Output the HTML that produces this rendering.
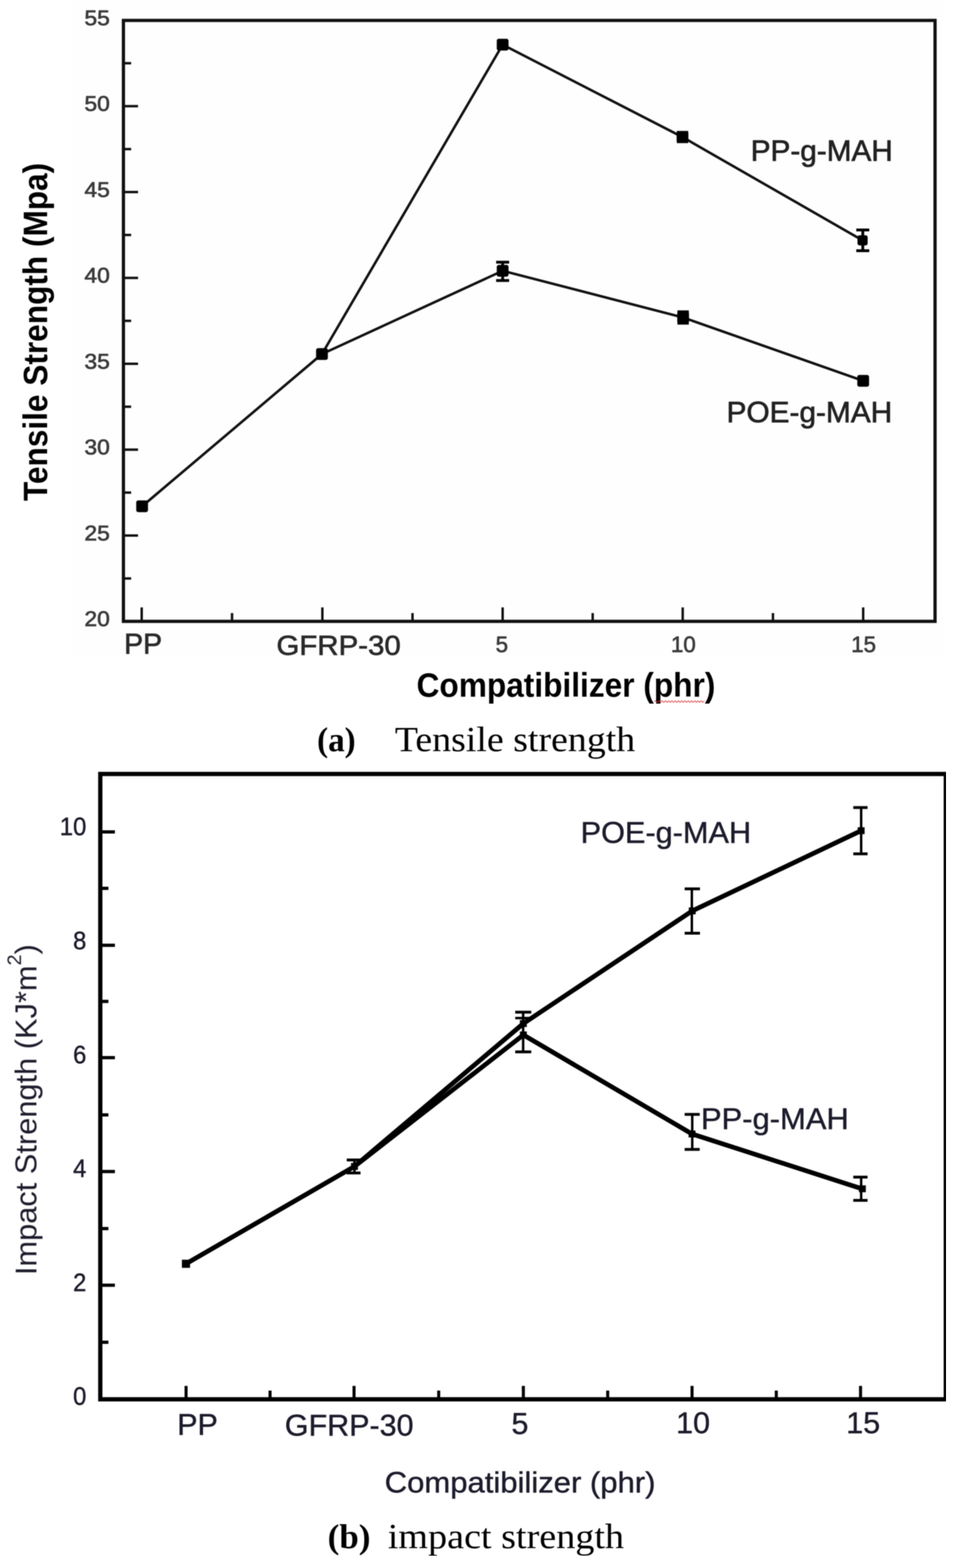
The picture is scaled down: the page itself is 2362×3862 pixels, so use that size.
<!DOCTYPE html><html><head><meta charset="utf-8"><title>Tensile and impact strength</title><style>html,body{margin:0;padding:0;background:#fff;}svg{display:block;}</style></head><body>
<svg width="2362" height="3862" viewBox="0 0 2362 3862">
<rect x="0" y="0" width="2362" height="3862" fill="#fff"/>
<defs><filter id="soft" x="0" y="0" width="100%" height="100%" color-interpolation-filters="sRGB"><feGaussianBlur stdDeviation="1.0"/></filter></defs>
<g filter="url(#soft)">
<rect x="180" y="0" width="2147" height="1618" fill="#fefefe"/>
<rect x="304" y="50.3" width="1999" height="1480.1000000000001" fill="none" stroke="#111" stroke-width="8"/>
<line x1="304" y1="1424.75" x2="323" y2="1424.75" stroke="#111" stroke-width="6" stroke-linecap="butt"/>
<line x1="304" y1="1319.0" x2="340" y2="1319.0" stroke="#111" stroke-width="6" stroke-linecap="butt"/>
<line x1="304" y1="1213.25" x2="323" y2="1213.25" stroke="#111" stroke-width="6" stroke-linecap="butt"/>
<line x1="304" y1="1107.5" x2="340" y2="1107.5" stroke="#111" stroke-width="6" stroke-linecap="butt"/>
<line x1="304" y1="1001.75" x2="323" y2="1001.75" stroke="#111" stroke-width="6" stroke-linecap="butt"/>
<line x1="304" y1="896.0" x2="340" y2="896.0" stroke="#111" stroke-width="6" stroke-linecap="butt"/>
<line x1="304" y1="790.25" x2="323" y2="790.25" stroke="#111" stroke-width="6" stroke-linecap="butt"/>
<line x1="304" y1="684.5" x2="340" y2="684.5" stroke="#111" stroke-width="6" stroke-linecap="butt"/>
<line x1="304" y1="578.7500000000001" x2="323" y2="578.7500000000001" stroke="#111" stroke-width="6" stroke-linecap="butt"/>
<line x1="304" y1="473.0" x2="340" y2="473.0" stroke="#111" stroke-width="6" stroke-linecap="butt"/>
<line x1="304" y1="367.25" x2="323" y2="367.25" stroke="#111" stroke-width="6" stroke-linecap="butt"/>
<line x1="304" y1="261.5" x2="340" y2="261.5" stroke="#111" stroke-width="6" stroke-linecap="butt"/>
<line x1="304" y1="155.75" x2="323" y2="155.75" stroke="#111" stroke-width="6" stroke-linecap="butt"/>
<line x1="349" y1="1530.4" x2="349" y2="1496" stroke="#111" stroke-width="6" stroke-linecap="butt"/>
<line x1="794" y1="1530.4" x2="794" y2="1496" stroke="#111" stroke-width="6" stroke-linecap="butt"/>
<line x1="1238" y1="1530.4" x2="1238" y2="1496" stroke="#111" stroke-width="6" stroke-linecap="butt"/>
<line x1="1681.5" y1="1530.4" x2="1681.5" y2="1496" stroke="#111" stroke-width="6" stroke-linecap="butt"/>
<line x1="2126" y1="1530.4" x2="2126" y2="1496" stroke="#111" stroke-width="6" stroke-linecap="butt"/>
<line x1="571.5" y1="1530.4" x2="571.5" y2="1510" stroke="#111" stroke-width="6" stroke-linecap="butt"/>
<line x1="1016.0" y1="1530.4" x2="1016.0" y2="1510" stroke="#111" stroke-width="6" stroke-linecap="butt"/>
<line x1="1459.75" y1="1530.4" x2="1459.75" y2="1510" stroke="#111" stroke-width="6" stroke-linecap="butt"/>
<line x1="1903.75" y1="1530.4" x2="1903.75" y2="1510" stroke="#111" stroke-width="6" stroke-linecap="butt"/>
<text x="270.5" y="1542.0" font-size="51" fill="#3c3c3c" font-family="'Liberation Sans', Arial, sans-serif" stroke="#3c3c3c" stroke-width="1.5" text-anchor="end" textLength="62.4" lengthAdjust="spacingAndGlyphs">20</text>
<text x="270.5" y="1330.5" font-size="51" fill="#3c3c3c" font-family="'Liberation Sans', Arial, sans-serif" stroke="#3c3c3c" stroke-width="1.5" text-anchor="end" textLength="62.4" lengthAdjust="spacingAndGlyphs">25</text>
<text x="270.5" y="1119.0" font-size="51" fill="#3c3c3c" font-family="'Liberation Sans', Arial, sans-serif" stroke="#3c3c3c" stroke-width="1.5" text-anchor="end" textLength="62.4" lengthAdjust="spacingAndGlyphs">30</text>
<text x="270.5" y="907.5" font-size="51" fill="#3c3c3c" font-family="'Liberation Sans', Arial, sans-serif" stroke="#3c3c3c" stroke-width="1.5" text-anchor="end" textLength="62.4" lengthAdjust="spacingAndGlyphs">35</text>
<text x="270.5" y="696.0" font-size="51" fill="#3c3c3c" font-family="'Liberation Sans', Arial, sans-serif" stroke="#3c3c3c" stroke-width="1.5" text-anchor="end" textLength="62.4" lengthAdjust="spacingAndGlyphs">40</text>
<text x="270.5" y="484.5" font-size="51" fill="#3c3c3c" font-family="'Liberation Sans', Arial, sans-serif" stroke="#3c3c3c" stroke-width="1.5" text-anchor="end" textLength="62.4" lengthAdjust="spacingAndGlyphs">45</text>
<text x="270.5" y="273.0" font-size="51" fill="#3c3c3c" font-family="'Liberation Sans', Arial, sans-serif" stroke="#3c3c3c" stroke-width="1.5" text-anchor="end" textLength="62.4" lengthAdjust="spacingAndGlyphs">50</text>
<text x="270.5" y="61.5" font-size="51" fill="#3c3c3c" font-family="'Liberation Sans', Arial, sans-serif" stroke="#3c3c3c" stroke-width="1.5" text-anchor="end" textLength="62.4" lengthAdjust="spacingAndGlyphs">55</text>
<text x="352.5" y="1610" font-size="70" fill="#2a2a2a" font-family="'Liberation Sans', Arial, sans-serif" stroke="#2a2a2a" stroke-width="1.5" text-anchor="middle">PP</text>
<text x="834" y="1612.5" font-size="69" fill="#2a2a2a" font-family="'Liberation Sans', Arial, sans-serif" stroke="#2a2a2a" stroke-width="1.5" text-anchor="middle" textLength="306" lengthAdjust="spacingAndGlyphs">GFRP-30</text>
<text x="1236" y="1606" font-size="55" fill="#3c3c3c" font-family="'Liberation Sans', Arial, sans-serif" stroke="#3c3c3c" stroke-width="1.5" text-anchor="middle">5</text>
<text x="1683" y="1606" font-size="55" fill="#3c3c3c" font-family="'Liberation Sans', Arial, sans-serif" stroke="#3c3c3c" stroke-width="1.5" text-anchor="middle">10</text>
<text x="2127" y="1606" font-size="55" fill="#3c3c3c" font-family="'Liberation Sans', Arial, sans-serif" stroke="#3c3c3c" stroke-width="1.5" text-anchor="middle">15</text>
<polyline points="350,1247 793,872 1238,110 1681,337.6 2124.5,592" fill="none" stroke="#111" stroke-width="6.3" stroke-linejoin="round" stroke-linecap="round"/>
<polyline points="793,872 1238,667 1682.5,782 2126,938" fill="none" stroke="#111" stroke-width="6.3" stroke-linejoin="round" stroke-linecap="round"/>
<rect x="335.5" y="1232.5" width="29" height="29" rx="5" fill="#000"/>
<rect x="778.5" y="857.5" width="29" height="29" rx="5" fill="#000"/>
<rect x="1223.5" y="95.5" width="29" height="29" rx="5" fill="#000"/>
<rect x="1666.5" y="323.1" width="29" height="29" rx="5" fill="#000"/>
<rect x="2112.0" y="579.5" width="25" height="25" rx="5" fill="#000"/>
<rect x="1223.5" y="652.5" width="29" height="29" rx="5" fill="#000"/>
<rect x="1668.0" y="767.5" width="29" height="29" rx="5" fill="#000"/>
<rect x="2111.5" y="923.5" width="29" height="29" rx="5" fill="#000"/>
<line x1="2125" y1="566.4" x2="2125" y2="617.5" stroke="#000" stroke-width="7" stroke-linecap="butt"/>
<line x1="2109" y1="566.4" x2="2141" y2="566.4" stroke="#000" stroke-width="7" stroke-linecap="butt"/>
<line x1="2109" y1="617.5" x2="2141" y2="617.5" stroke="#000" stroke-width="7" stroke-linecap="butt"/>
<line x1="1238" y1="645.8" x2="1238" y2="690.9" stroke="#000" stroke-width="7" stroke-linecap="butt"/>
<line x1="1222" y1="645.8" x2="1254" y2="645.8" stroke="#000" stroke-width="7" stroke-linecap="butt"/>
<line x1="1222" y1="690.9" x2="1254" y2="690.9" stroke="#000" stroke-width="7" stroke-linecap="butt"/>
<line x1="1681" y1="326" x2="1681" y2="349" stroke="#000" stroke-width="7" stroke-linecap="butt"/>
<line x1="1667" y1="326" x2="1695" y2="326" stroke="#000" stroke-width="7" stroke-linecap="butt"/>
<line x1="1667" y1="349" x2="1695" y2="349" stroke="#000" stroke-width="7" stroke-linecap="butt"/>
<line x1="1682.5" y1="768" x2="1682.5" y2="796" stroke="#000" stroke-width="7" stroke-linecap="butt"/>
<line x1="1668.5" y1="768" x2="1696.5" y2="768" stroke="#000" stroke-width="7" stroke-linecap="butt"/>
<line x1="1668.5" y1="796" x2="1696.5" y2="796" stroke="#000" stroke-width="7" stroke-linecap="butt"/>
<text x="1849" y="396" font-size="72" fill="#222" font-family="'Liberation Sans', Arial, sans-serif" stroke="#222" stroke-width="1.5" textLength="350" lengthAdjust="spacingAndGlyphs">PP-g-MAH</text>
<text x="1789.5" y="1039.6" font-size="72" fill="#222" font-family="'Liberation Sans', Arial, sans-serif" stroke="#222" stroke-width="1.5" textLength="408" lengthAdjust="spacingAndGlyphs">POE-g-MAH</text>
<text transform="translate(116,1234) rotate(-90)" x="0" y="0" font-size="84" font-family="'Liberation Sans', Arial, sans-serif" font-weight="bold" fill="#000" textLength="833" lengthAdjust="spacingAndGlyphs">Tensile Strength (Mpa)</text>
<text x="1026" y="1715.5" font-size="83" fill="#000" font-family="'Liberation Sans', Arial, sans-serif" font-weight="bold" textLength="736" lengthAdjust="spacingAndGlyphs">Compatibilizer (phr)</text>
<path d="M1611,1728 L1615,1726 L1619,1730 L1623,1726 L1627,1730 L1631,1726 L1635,1730 L1639,1726 L1643,1730 L1647,1726 L1651,1730 L1655,1726 L1659,1730 L1663,1726 L1667,1730 L1671,1726 L1675,1730 L1679,1726 L1683,1730 L1687,1726 L1691,1730 L1695,1726 L1699,1730 L1703,1726 L1707,1730 L1711,1726 L1715,1730 L1719,1726 L1723,1730 L1727,1726 L1731,1730 L1735,1726" fill="none" stroke="#e03030" stroke-width="1.6"/>
<text x="781" y="1849.5" font-size="84" fill="#000" font-family="'Liberation Serif', 'Times New Roman', serif" font-weight="bold" textLength="95" lengthAdjust="spacingAndGlyphs">(a)</text>
<text x="972.5" y="1849.5" font-size="86" fill="#000" font-family="'Liberation Serif', 'Times New Roman', serif" textLength="592" lengthAdjust="spacingAndGlyphs">Tensile strength</text>
<rect x="247" y="1906.3" width="2082.5" height="1540.2" fill="none" stroke="#000" stroke-width="10.5"/>
<line x1="247" y1="3306" x2="267" y2="3306" stroke="#000" stroke-width="8" stroke-linecap="butt"/>
<line x1="247" y1="3165.6" x2="283" y2="3165.6" stroke="#000" stroke-width="8" stroke-linecap="butt"/>
<line x1="247" y1="3026" x2="267" y2="3026" stroke="#000" stroke-width="8" stroke-linecap="butt"/>
<line x1="247" y1="2885.4" x2="283" y2="2885.4" stroke="#000" stroke-width="8" stroke-linecap="butt"/>
<line x1="247" y1="2746" x2="267" y2="2746" stroke="#000" stroke-width="8" stroke-linecap="butt"/>
<line x1="247" y1="2605" x2="283" y2="2605" stroke="#000" stroke-width="8" stroke-linecap="butt"/>
<line x1="247" y1="2466.5" x2="267" y2="2466.5" stroke="#000" stroke-width="8" stroke-linecap="butt"/>
<line x1="247" y1="2328.2" x2="283" y2="2328.2" stroke="#000" stroke-width="8" stroke-linecap="butt"/>
<line x1="247" y1="2188" x2="267" y2="2188" stroke="#000" stroke-width="8" stroke-linecap="butt"/>
<line x1="247" y1="2049" x2="283" y2="2049" stroke="#000" stroke-width="8" stroke-linecap="butt"/>
<line x1="458.3" y1="3446.5" x2="458.3" y2="3413.5" stroke="#000" stroke-width="7.5" stroke-linecap="butt"/>
<line x1="872" y1="3446.5" x2="872" y2="3413.5" stroke="#000" stroke-width="7.5" stroke-linecap="butt"/>
<line x1="1289" y1="3446.5" x2="1289" y2="3413.5" stroke="#000" stroke-width="7.5" stroke-linecap="butt"/>
<line x1="1704.5" y1="3446.5" x2="1704.5" y2="3413.5" stroke="#000" stroke-width="7.5" stroke-linecap="butt"/>
<line x1="2119.5" y1="3446.5" x2="2119.5" y2="3413.5" stroke="#000" stroke-width="7.5" stroke-linecap="butt"/>
<line x1="665.15" y1="3446.5" x2="665.15" y2="3425" stroke="#000" stroke-width="7.5" stroke-linecap="butt"/>
<line x1="1080.5" y1="3446.5" x2="1080.5" y2="3425" stroke="#000" stroke-width="7.5" stroke-linecap="butt"/>
<line x1="1496.75" y1="3446.5" x2="1496.75" y2="3425" stroke="#000" stroke-width="7.5" stroke-linecap="butt"/>
<line x1="1912.0" y1="3446.5" x2="1912.0" y2="3425" stroke="#000" stroke-width="7.5" stroke-linecap="butt"/>
<text x="212.5" y="3460" font-size="63" fill="#1c1c2c" font-family="'Liberation Sans', Arial, sans-serif" stroke="#1c1c2c" stroke-width="1" text-anchor="end" textLength="32.6" lengthAdjust="spacingAndGlyphs">0</text>
<text x="212.5" y="3179.5" font-size="63" fill="#1c1c2c" font-family="'Liberation Sans', Arial, sans-serif" stroke="#1c1c2c" stroke-width="1" text-anchor="end" textLength="32.6" lengthAdjust="spacingAndGlyphs">2</text>
<text x="212.5" y="2899.4" font-size="63" fill="#1c1c2c" font-family="'Liberation Sans', Arial, sans-serif" stroke="#1c1c2c" stroke-width="1" text-anchor="end" textLength="32.6" lengthAdjust="spacingAndGlyphs">4</text>
<text x="212.5" y="2618.5" font-size="63" fill="#1c1c2c" font-family="'Liberation Sans', Arial, sans-serif" stroke="#1c1c2c" stroke-width="1" text-anchor="end" textLength="32.6" lengthAdjust="spacingAndGlyphs">6</text>
<text x="212.5" y="2338.2" font-size="63" fill="#1c1c2c" font-family="'Liberation Sans', Arial, sans-serif" stroke="#1c1c2c" stroke-width="1" text-anchor="end" textLength="32.6" lengthAdjust="spacingAndGlyphs">8</text>
<text x="212.5" y="2057" font-size="63" fill="#1c1c2c" font-family="'Liberation Sans', Arial, sans-serif" stroke="#1c1c2c" stroke-width="1" text-anchor="end" textLength="65.2" lengthAdjust="spacingAndGlyphs">10</text>
<text x="486.5" y="3533.5" font-size="75" fill="#1c1c2c" font-family="'Liberation Sans', Arial, sans-serif" stroke="#1c1c2c" stroke-width="1" text-anchor="middle">PP</text>
<text x="860" y="3536" font-size="75" fill="#1c1c2c" font-family="'Liberation Sans', Arial, sans-serif" stroke="#1c1c2c" stroke-width="1" text-anchor="middle" textLength="317" lengthAdjust="spacingAndGlyphs">GFRP-30</text>
<text x="1280.5" y="3532" font-size="75" fill="#1c1c2c" font-family="'Liberation Sans', Arial, sans-serif" stroke="#1c1c2c" stroke-width="1" text-anchor="middle">5</text>
<text x="1707" y="3530" font-size="75" fill="#1c1c2c" font-family="'Liberation Sans', Arial, sans-serif" stroke="#1c1c2c" stroke-width="1" text-anchor="middle">10</text>
<text x="2126" y="3530" font-size="75" fill="#1c1c2c" font-family="'Liberation Sans', Arial, sans-serif" stroke="#1c1c2c" stroke-width="1" text-anchor="middle">15</text>
<polyline points="458,3112.7 873,2873 1289,2521 1705,2243.5 2121,2046" fill="none" stroke="#000" stroke-width="11.5" stroke-linejoin="round" stroke-linecap="round"/>
<polyline points="873,2873 1289,2549 1704.5,2793 2123,2928" fill="none" stroke="#000" stroke-width="11.5" stroke-linejoin="round" stroke-linecap="round"/>
<rect x="448.0" y="3102.7" width="20" height="20" fill="#000"/>
<rect x="864.5" y="2864.5" width="17" height="17" fill="#000"/>
<rect x="1280.5" y="2512.5" width="17" height="17" fill="#000"/>
<rect x="1280.5" y="2540.5" width="17" height="17" fill="#000"/>
<rect x="1696.5" y="2235.0" width="17" height="17" fill="#000"/>
<rect x="2112.5" y="2037.5" width="17" height="17" fill="#000"/>
<rect x="1696.0" y="2784.5" width="17" height="17" fill="#000"/>
<rect x="2115.5" y="2919.5" width="17" height="17" fill="#000"/>
<line x1="873" y1="2857" x2="873" y2="2889" stroke="#000" stroke-width="6" stroke-linecap="butt"/>
<line x1="854" y1="2857" x2="888" y2="2857" stroke="#000" stroke-width="7" stroke-linecap="butt"/>
<line x1="854" y1="2889" x2="888" y2="2889" stroke="#000" stroke-width="7" stroke-linecap="butt"/>
<line x1="1288.5" y1="2493" x2="1288.5" y2="2590.7" stroke="#000" stroke-width="6" stroke-linecap="butt"/>
<line x1="1269" y1="2493" x2="1308.5" y2="2493" stroke="#000" stroke-width="7" stroke-linecap="butt"/>
<line x1="1269" y1="2590.7" x2="1308.5" y2="2590.7" stroke="#000" stroke-width="7" stroke-linecap="butt"/>
<line x1="1704" y1="2189.2" x2="1704" y2="2298.6" stroke="#000" stroke-width="6" stroke-linecap="butt"/>
<line x1="1686.3" y1="2189.2" x2="1724" y2="2189.2" stroke="#000" stroke-width="7" stroke-linecap="butt"/>
<line x1="1686.3" y1="2298.6" x2="1724" y2="2298.6" stroke="#000" stroke-width="7" stroke-linecap="butt"/>
<line x1="2121" y1="1989" x2="2121" y2="2103" stroke="#000" stroke-width="6" stroke-linecap="butt"/>
<line x1="2101.6" y1="1989" x2="2136.8" y2="1989" stroke="#000" stroke-width="7" stroke-linecap="butt"/>
<line x1="2101.6" y1="2103" x2="2136.8" y2="2103" stroke="#000" stroke-width="7" stroke-linecap="butt"/>
<line x1="1705" y1="2744.7" x2="1705" y2="2831" stroke="#000" stroke-width="6" stroke-linecap="butt"/>
<line x1="1686.3" y1="2744.7" x2="1723.4" y2="2744.7" stroke="#000" stroke-width="7" stroke-linecap="butt"/>
<line x1="1686.3" y1="2831" x2="1723.4" y2="2831" stroke="#000" stroke-width="7" stroke-linecap="butt"/>
<line x1="2121" y1="2899.3" x2="2121" y2="2956.6" stroke="#000" stroke-width="6" stroke-linecap="butt"/>
<line x1="2101.6" y1="2899.3" x2="2136.8" y2="2899.3" stroke="#000" stroke-width="7" stroke-linecap="butt"/>
<line x1="2101.6" y1="2956.6" x2="2136.8" y2="2956.6" stroke="#000" stroke-width="7" stroke-linecap="butt"/>
<line x1="1269" y1="2507.4" x2="1308.5" y2="2507.4" stroke="#000" stroke-width="6" stroke-linecap="butt"/>
<text x="1430" y="2075.6" font-size="74" fill="#1c1c2c" font-family="'Liberation Sans', Arial, sans-serif" stroke="#1c1c2c" stroke-width="1" textLength="420" lengthAdjust="spacingAndGlyphs">POE-g-MAH</text>
<text x="1726.5" y="2781" font-size="74" fill="#1c1c2c" font-family="'Liberation Sans', Arial, sans-serif" stroke="#1c1c2c" stroke-width="1" textLength="364" lengthAdjust="spacingAndGlyphs">PP-g-MAH</text>
<text transform="translate(89.7,3140.6) rotate(-90)" x="0" y="0" font-size="75" font-family="'Liberation Sans', Arial, sans-serif" fill="#1c1c2c" textLength="815" lengthAdjust="spacingAndGlyphs">Impact Strength (KJ*m<tspan font-size="48" dy="-38">2</tspan><tspan dy="38">)</tspan></text>
<text x="947.5" y="3675.7" font-size="73" fill="#1c1c2c" font-family="'Liberation Sans', Arial, sans-serif" stroke="#1c1c2c" stroke-width="1" textLength="667" lengthAdjust="spacingAndGlyphs">Compatibilizer (phr)</text>
<text x="807" y="3813" font-size="84" fill="#000" font-family="'Liberation Serif', 'Times New Roman', serif" font-weight="bold" textLength="105.5" lengthAdjust="spacingAndGlyphs">(b)</text>
<text x="955" y="3813" font-size="86" fill="#000" font-family="'Liberation Serif', 'Times New Roman', serif" textLength="582" lengthAdjust="spacingAndGlyphs">impact strength</text>
</g>
</svg></body></html>
